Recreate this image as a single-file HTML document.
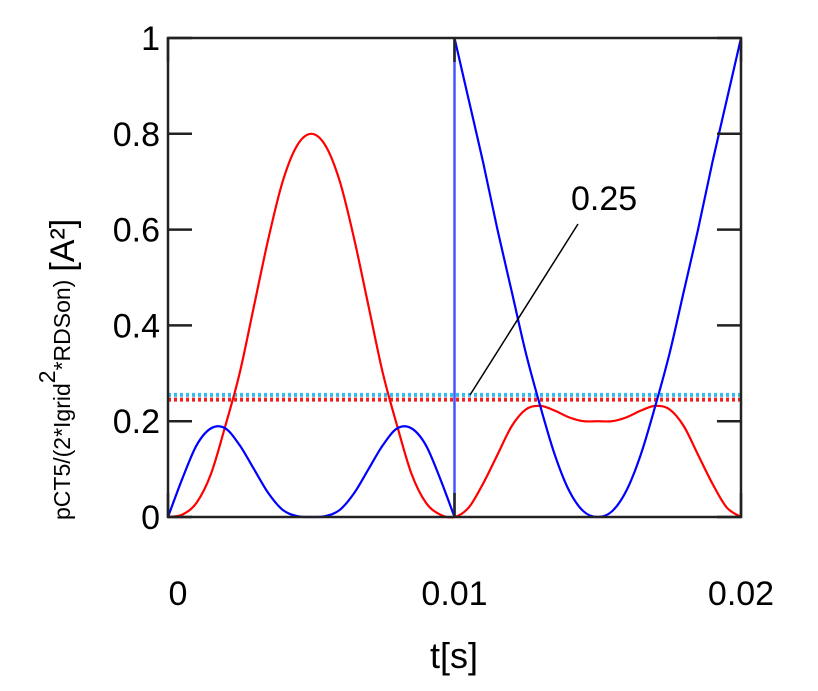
<!DOCTYPE html>
<html><head><meta charset="utf-8"><style>
body{margin:0;background:#fff;}
svg{display:block;font-family:"Liberation Sans",Arial,sans-serif;}
</style></head><body>
<svg id="chart" width="818" height="691" viewBox="0 0 818 691">
<g id="marks"></g>
<g id="axes"></g>
<line x1="470" y1="395" x2="578" y2="224" stroke="#000" stroke-width="1.5"/>
<text x="571" y="210" font-size="34">0.25</text>
<text x="454" y="668" font-size="36" text-anchor="middle">t[s]</text>
<text transform="translate(70,520) rotate(-90)" font-size="23"><tspan>pCT5/(2*Igrid</tspan><tspan dy="-15">2</tspan><tspan dy="15">*RDSon)</tspan><tspan font-size="34" dx="8" dy="4">[A²]</tspan></text>
</svg>
<script>
const times=[0,0.0005,0.001,0.0015,0.002,0.0025,0.003,0.0035,0.004,0.0045,0.005,0.0055,0.006,0.0065,0.007,0.0075,0.008,0.0085,0.009,0.0095,0.01,0.0105,0.011,0.0115,0.012,0.0125,0.013,0.0135,0.014,0.0145,0.015,0.0155,0.016,0.0165,0.017,0.0175,0.018,0.0185,0.019,0.0195,0.02];
const redSeries=[0,0.005,0.03,0.09,0.19,0.3,0.44,0.58,0.7,0.775,0.8,0.775,0.7,0.58,0.44,0.3,0.19,0.09,0.03,0.005,0,0.02,0.07,0.13,0.19,0.225,0.232,0.222,0.208,0.2,0.2,0.2,0.208,0.222,0.232,0.225,0.19,0.13,0.07,0.02,0];
const blueSeriesA=[0,0.08,0.15,0.185,0.185,0.15,0.1,0.05,0.015,0.002,0,0.002,0.015,0.05,0.1,0.15,0.185,0.185,0.15,0.08,0];
const blueSeriesB=[1,0.87,0.74,0.6,0.47,0.34,0.23,0.13,0.055,0.012,0,0.012,0.055,0.13,0.23,0.34,0.47,0.6,0.74,0.87,1];
const refLevels=[0.255,0.245];
const xTicks=[0,0.01,0.02];
const xTickLabels=["0","0.01","0.02"];
const yTicks=[0,0.2,0.4,0.6,0.8,1];
const yTickLabels=["0","0.2","0.4","0.6","0.8","1"];
const X0=168,X1=741,Y0=517,Y1=38;
const sx=t=>X0+(t-0)/(0.02)*(X1-X0);
const sy=v=>Y0-v*(Y0-Y1);
const NS="http://www.w3.org/2000/svg";
const marks=document.getElementById('marks'),axes=document.getElementById('axes');
function mk(tag,attrs,parent){const e=document.createElementNS(NS,tag);for(const k in attrs)e.setAttribute(k,attrs[k]);parent.appendChild(e);return e;}
function smoothPath(pts){let d=`M${pts[0][0]},${pts[0][1]}`;for(let i=0;i<pts.length-1;i++){const p0=pts[i-1]||pts[i],p1=pts[i],p2=pts[i+1],p3=pts[i+2]||p2;d+=` C${p1[0]+(p2[0]-p0[0])/6},${p1[1]+(p2[1]-p0[1])/6} ${p2[0]-(p3[0]-p1[0])/6},${p2[1]-(p3[1]-p1[1])/6} ${p2[0]},${p2[1]}`;}return d;}
const c1=mk('line',{x1:X0,x2:X1,y1:sy(refLevels[0]),y2:sy(refLevels[0]),stroke:'#33bbee','stroke-width':4,'stroke-dasharray':'3 3'},marks);


const c2=mk('line',{x1:X0,x2:X1,y1:sy(refLevels[1]),y2:sy(refLevels[1]),stroke:'#ee2222','stroke-width':4,'stroke-dasharray':'3 3'},marks);


const rp=mk('path',{d:smoothPath(times.map((t,i)=>[sx(t),sy(redSeries[i])])),fill:'none',stroke:'#ff0000','stroke-width':2.2},marks);


const bA=mk('path',{d:smoothPath(blueSeriesA.map((v,i)=>[sx(times[i]),sy(v)])),fill:'none',stroke:'#0000ff','stroke-width':2.2},marks);


const bB=mk('path',{d:smoothPath(blueSeriesB.map((v,i)=>[sx(times[i+20]),sy(v)])),fill:'none',stroke:'#0000ff','stroke-width':2.2},marks);


const bv=mk('line',{x1:sx(times[20]),x2:sx(times[20]),y1:sy(blueSeriesA[20]),y2:sy(blueSeriesB[0]),stroke:'#4455ff','stroke-width':2.5},marks);


const fr=mk('rect',{x:X0,y:Y1,width:X1-X0,height:Y0-Y1,fill:'none',stroke:'#222','stroke-width':2.5},axes);


yTicks.forEach((v,i)=>{
 const y=sy(v);
 const t1=mk('line',{x1:X0,x2:X0+24,y1:y,y2:y,stroke:'#222','stroke-width':2.5},axes);
 
 
 const t2=mk('line',{x1:X1-24,x2:X1,y1:y,y2:y,stroke:'#222','stroke-width':2.5},axes);
 
 
 const tx=mk('text',{x:X0-8,y:y+12,'font-size':34,'text-anchor':'end'},axes);
 tx.textContent=yTickLabels[i];
 
 
});
xTicks.forEach((t,i)=>{
 const x=sx(t);
 const t1=mk('line',{x1:x,x2:x,y1:Y0,y2:Y0-24,stroke:'#222','stroke-width':2.5},axes);
 
 
 const t2=mk('line',{x1:x,x2:x,y1:Y1,y2:Y1+24,stroke:'#222','stroke-width':2.5},axes);
 
 
 const tx=mk('text',{x:i===0?x+10:x,y:605,'font-size':34,'text-anchor':'middle'},axes);
 tx.textContent=xTickLabels[i];
 
 
});
</script>
</body></html>
